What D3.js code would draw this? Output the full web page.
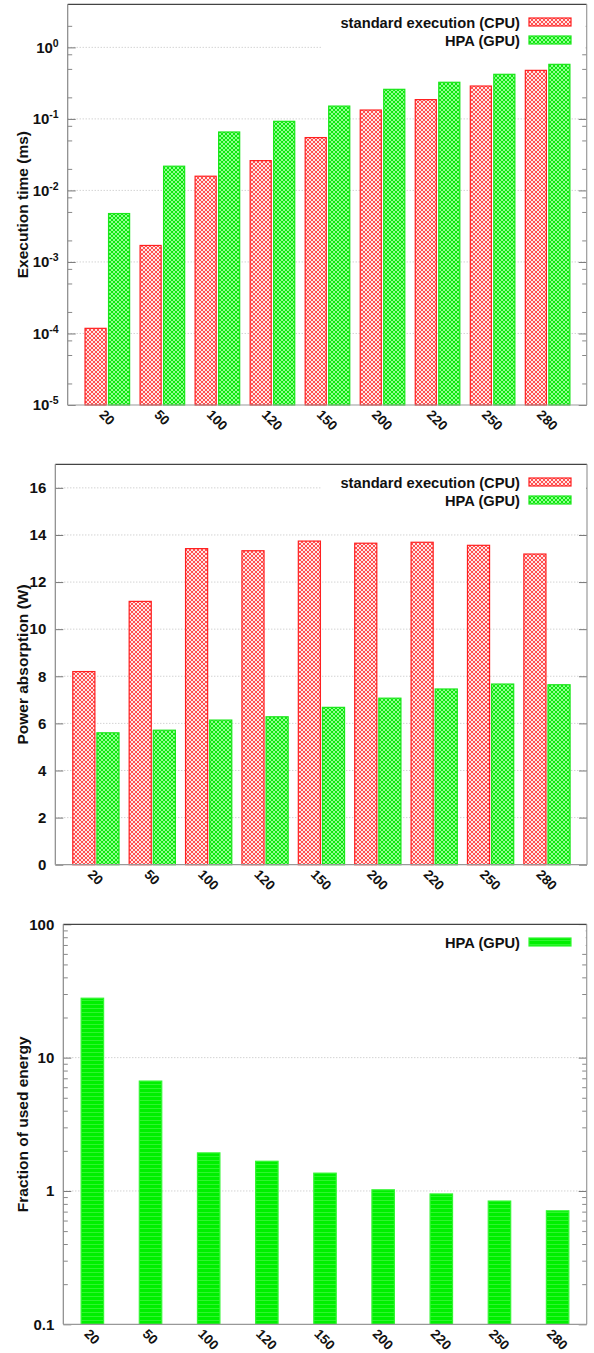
<!doctype html>
<html>
<head>
<script src="https://d3js.org/d3.v7.min.js"></script>
<style>
    body { margin: 0; background: #fff; }
    text { font-family: "Liberation Sans", Arial, sans-serif; font-weight: bold; }
</style>
</head>
<body>
<svg width="594" height="1353"></svg>
<script>
    var sizes = ["20", "50", "100", "120", "150", "200", "220", "250", "280"];

    // execution time (ms), log axis
    var timeCpu = [1.18e-4, 1.7e-3, 0.0158, 0.0261, 0.0548, 0.133, 0.186, 0.288, 0.477];
    var timeGpu = [4.75e-3, 0.0218, 0.0656, 0.0925, 0.151, 0.259, 0.325, 0.42, 0.579];

    // power absorption (W)
    var powerCpu = [8.2, 11.18, 13.42, 13.33, 13.74, 13.65, 13.69, 13.56, 13.19];
    var powerGpu = [5.6, 5.71, 6.14, 6.28, 6.68, 7.07, 7.46, 7.67, 7.64];

    // fraction of used energy, log axis
    var energyGpu = [27.9, 6.67, 1.93, 1.67, 1.36, 1.02, 0.95, 0.84, 0.71];

    var powerTicks = [0, 2, 4, 6, 8, 10, 12, 14, 16];
    var timeTicks = [1e-5, 1e-4, 1e-3, 1e-2, 1e-1, 1];
    var energyTicks = [0.1, 1, 10, 100];
    var energyLabels = ["0.1", "1", "10", "100"];

    var svg = d3.select("svg");
    var defs = svg.append("defs");

    // crosshatch fills, like the gnuplot pattern fill
    function hatch(id, bg, fg) {
        var p = defs.append("pattern").attr("id", id)
            .attr("patternUnits", "userSpaceOnUse").attr("width", 4).attr("height", 4);
        p.append("rect").attr("width", 4).attr("height", 4).attr("fill", bg);
        p.append("path").attr("d", "M0,0L4,4M4,0L0,4")
            .attr("stroke", fg).attr("stroke-width", 0.9).attr("fill", "none");
    }
    hatch("cpuFill", "#ffe6e6", "#ff4040");
    hatch("gpuFill", "#90ff90", "#00e400");

    var solid = defs.append("pattern").attr("id", "gpuSolid")
        .attr("patternUnits", "userSpaceOnUse").attr("width", 4).attr("height", 4);
    solid.append("rect").attr("width", 4).attr("height", 4).attr("fill", "#00f000");
    solid.append("rect").attr("width", 4).attr("height", 1).attr("fill", "#30f530");

    function minorLog(lo, hi, mults) {
        var out = [];
        for (var e = -6; e <= 3; e++) {
            mults.forEach(function (m) {
                var v = m * Math.pow(10, e);
                if (v > lo && v < hi) out.push(v);
            });
        }
        return out;
    }

    function chart(o) {
        var g = svg.append("g");
        var x = d3.scaleLinear().domain(o.xDomain).range([o.left, o.right]);
        var y = o.y.range([o.bottom, o.top]);

        // dotted grid
        g.selectAll(".grid").data(o.grid).enter().append("line")
            .attr("x1", o.left).attr("x2", o.right)
            .attr("y1", d => y(d)).attr("y2", d => y(d))
            .attr("stroke", "#b0b0b0").attr("stroke-width", 0.8)
            .attr("stroke-dasharray", "1,2");

        // bars
        o.series.forEach(function (s) {
            g.append("g").selectAll("rect").data(s.values).enter().append("rect")
                .attr("x", (d, i) => x(i + s.off[0]))
                .attr("width", (d, i) => x(i + s.off[1]) - x(i + s.off[0]))
                .attr("y", d => y(d))
                .attr("height", d => o.bottom - y(d))
                .attr("fill", "url(#" + s.fill + ")")
                .attr("stroke", s.stroke).attr("stroke-width", 1.2);
        });

        // ticks, pointing inward on both sides
        var left = d3.axisLeft(y).tickValues(o.majors).tickSize(-8).tickPadding(9)
            .tickFormat(o.fmt || (d => d));
        var ga = g.append("g").attr("transform", "translate(" + o.left + ",0)").call(left);
        ga.select(".domain").remove();
        ga.attr("font-size", 15).attr("font-family", null);
        ga.selectAll("line").attr("stroke", "#777");
        ga.selectAll("text").attr("fill", "#111");
        if (o.sup) {
            ga.selectAll("text").each(function (d) {
                var t = d3.select(this).text("");
                t.append("tspan").text("10");
                t.append("tspan").attr("font-size", 10.5).attr("dy", -6).text(Math.round(Math.log10(d)));
            });
        }
        var gr = g.append("g").attr("transform", "translate(" + o.right + ",0)")
            .call(d3.axisRight(y).tickValues(o.majors).tickSize(-8).tickFormat(""));
        gr.select(".domain").remove();
        gr.selectAll("line").attr("stroke", "#777");

        if (o.minors) {
            [[d3.axisLeft, o.left], [d3.axisRight, o.right]].forEach(function (a) {
                var m = g.append("g").attr("transform", "translate(" + a[1] + ",0)")
                    .call(a[0](y).tickValues(o.minors).tickSize(-4.5).tickFormat(""));
                m.select(".domain").remove();
                m.selectAll("line").attr("stroke", "#888");
            });
        }

        // frame
        g.append("line").attr("x1", o.left).attr("x2", o.right).attr("y1", o.top).attr("y2", o.top)
            .attr("stroke", "#444").attr("stroke-width", 1.2);
        g.append("line").attr("x1", o.left).attr("x2", o.left).attr("y1", o.top).attr("y2", o.bottom)
            .attr("stroke", "#888").attr("stroke-width", 1.2);
        g.append("line").attr("x1", o.right).attr("x2", o.right).attr("y1", o.top).attr("y2", o.bottom)
            .attr("stroke", "#999").attr("stroke-width", 1.2);
        g.append("line").attr("x1", o.left).attr("x2", o.right).attr("y1", o.bottom).attr("y2", o.bottom)
            .attr("stroke", "#999").attr("stroke-width", 1.2);

        // rotated category labels
        g.selectAll(".xl").data(sizes).enter().append("text")
            .attr("font-size", 13.5).attr("fill", "#111")
            .text(d => d)
            .attr("transform", function (d, i) {
                var w = this.getComputedTextLength();
                var sx = x(i) - 0.354 * (w + 10);
                return "translate(" + sx + "," + (o.bottom + 10.5) + ") rotate(45)";
            });

        // y title
        g.append("text")
            .attr("transform", "translate(28," + (o.top + o.bottom) / 2 + ") rotate(-90)")
            .attr("text-anchor", "middle").attr("font-size", 15.5).attr("fill", "#111")
            .text(o.title);

        // legend with opaque box
        g.append("rect")
            .attr("x", 322).attr("y", o.top + 1)
            .attr("width", o.right - 323).attr("height", o.series.length * 18 + 8)
            .attr("fill", "#fff");
        o.series.forEach(function (s, k) {
            var ry = o.top + 17.7 + k * 18;
            g.append("text").attr("x", 520).attr("y", ry + 5.5)
                .attr("text-anchor", "end").attr("font-size", 14.7).attr("fill", "#111")
                .text(s.name);
            g.append("rect").attr("x", 529).attr("y", ry - 4).attr("width", 42).attr("height", 8)
                .attr("fill", "url(#" + s.fill + ")").attr("stroke", s.stroke).attr("stroke-width", 1.2);
        });
    }

    chart({
        left: 67.7, right: 586.7, top: 4.3, bottom: 405,
        xDomain: [-0.72, 8.71],
        y: d3.scaleLog().domain([1e-5, 4]),
        majors: timeTicks,
        minors: minorLog(1e-5, 4, [2, 5, 8]),
        grid: timeTicks.slice(1),
        sup: true,
        title: "Execution time (ms)",
        series: [
            { name: "standard execution (CPU)", values: timeCpu, off: [-0.405, -0.022], fill: "cpuFill", stroke: "#ff2020" },
            { name: "HPA (GPU)", values: timeGpu, off: [0.022, 0.405], fill: "gpuFill", stroke: "#19e619" }
        ]
    });

    chart({
        left: 55.3, right: 587, top: 464.3, bottom: 864.7,
        xDomain: [-0.72, 8.71],
        y: d3.scaleLinear().domain([0, 17]),
        majors: powerTicks,
        grid: powerTicks.slice(1),
        title: "Power absorption (W)",
        series: [
            { name: "standard execution (CPU)", values: powerCpu, off: [-0.41, -0.018], fill: "cpuFill", stroke: "#ff2020" },
            { name: "HPA (GPU)", values: powerGpu, off: [0.018, 0.41], fill: "gpuFill", stroke: "#19e619" }
        ]
    });

    chart({
        left: 63.3, right: 586.7, top: 924.3, bottom: 1324.3,
        xDomain: [-0.5, 8.5],
        y: d3.scaleLog().domain([0.1, 100]),
        majors: energyTicks,
        minors: minorLog(0.1, 100, [2, 3, 4, 5, 6, 7, 8, 9]),
        grid: [1, 10],
        fmt: d => energyLabels[energyTicks.indexOf(d)],
        title: "Fraction of used energy",
        series: [
            { name: "HPA (GPU)", values: energyGpu, off: [-0.193, 0.193], fill: "gpuSolid", stroke: "#33f533" }
        ]
    });
</script>
</body>
</html>
